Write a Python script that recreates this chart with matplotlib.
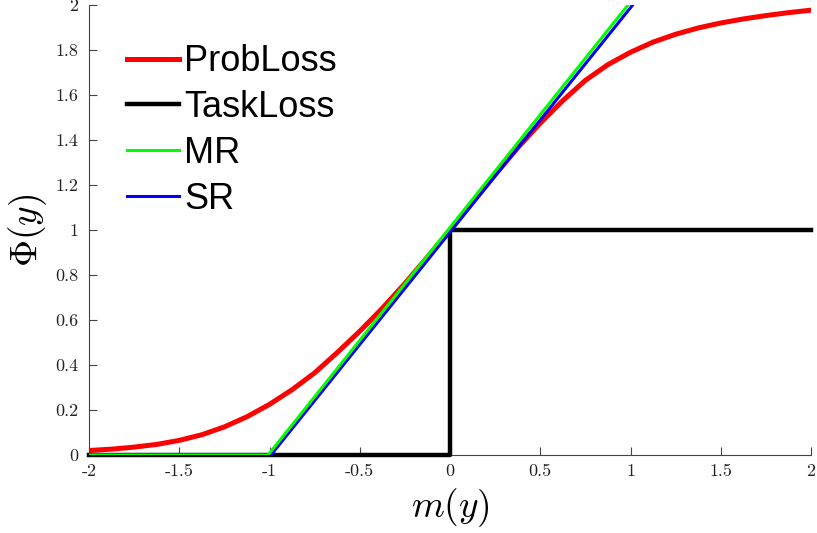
import matplotlib
matplotlib.use('Agg')
import matplotlib.pyplot as plt

plt.rcParams['mathtext.fontset'] = 'cm'

# values
m_prob = [-2.0, -1.875, -1.75, -1.625, -1.5, -1.375, -1.25, -1.125, -1.0,
          -0.875, -0.75, -0.625, -0.5, -0.375, -0.25, -0.125, 0.0,
          0.125, 0.25, 0.375, 0.5, 0.625, 0.75, 0.875, 1.0,
          1.125, 1.25, 1.375, 1.5, 1.625, 1.75, 1.875, 2.0]
prob_loss = [0.02, 0.026, 0.035, 0.047, 0.065, 0.09, 0.125, 0.17, 0.225,
             0.29, 0.365, 0.455, 0.55, 0.652, 0.762, 0.88, 1.0,
             1.124, 1.246, 1.365, 1.475, 1.575, 1.665, 1.735, 1.79,
             1.835, 1.87, 1.898, 1.92, 1.938, 1.953, 1.966, 1.977]

m_task = [-2, 0, 0, 2]
task_loss = [0, 0, 1, 1]

m_mr = [-2, -1.008, 0.986]
mr = [0, 0, 2]

m_sr = [-2, -0.992, 1.012]
sr = [0, 0, 2]

xticks = [-2, -1.5, -1, -0.5, 0, 0.5, 1, 1.5, 2]
xtick_labels = ['-2', '-1.5', '-1', '-0.5', '0', '0.5', '1', '1.5', '2']
yticks = [0, 0.2, 0.4, 0.6, 0.8, 1, 1.2, 1.4, 1.6, 1.8, 2]
ytick_labels = ['0', '0.2', '0.4', '0.6', '0.8', '1', '1.2', '1.4', '1.6', '1.8', '2']

fig = plt.figure(figsize=(8.17, 5.33), dpi=100)
ax = fig.add_axes([89 / 817, 78 / 533, 722 / 817, 450 / 533])

ax.plot(m_prob, prob_loss, color='#ff0000', lw=3.6, label='ProbLoss', zorder=2,
        solid_joinstyle='round')
ax.plot(m_task, task_loss, color='black', lw=3.2, label='TaskLoss', zorder=3, clip_on=False)
ax.plot(m_mr, mr, color='#00ff00', lw=2.2, label='MR', zorder=5)
ax.plot(m_sr, sr, color='#0000ff', lw=2.2, label='SR', zorder=4)

ax.set_xlim(-2, 2)
ax.set_ylim(0, 2)
ax.spines['top'].set_visible(False)
ax.spines['right'].set_visible(False)
for s in ['left', 'bottom']:
    ax.spines[s].set_color('#444444')
    ax.spines[s].set_linewidth(0.8)

ax.set_xticks(xticks)
ax.set_xticklabels(xtick_labels, family='cmr10', fontsize=13)
ax.set_yticks(yticks)
ax.set_yticklabels(ytick_labels, family='cmr10', fontsize=13)
ax.tick_params(direction='in', length=6, width=0.8, color='#444444', labelcolor='#222222')
ax.tick_params(axis='y', pad=8)
ax.tick_params(axis='x', pad=6)

ax.set_xlabel(r'$m(y)$', fontsize=27, labelpad=5.5)
ax.set_ylabel(r'$\Phi(y)$', fontsize=27, labelpad=4.5)

leg = ax.legend(loc='upper left', bbox_to_anchor=(0.033, 0.945), frameon=False,
                prop={'family': 'Liberation Sans', 'size': 26},
                handlelength=1.42, handletextpad=0.15, labelspacing=0.3,
                borderaxespad=0)

fig.savefig('out.png', dpi=100)
